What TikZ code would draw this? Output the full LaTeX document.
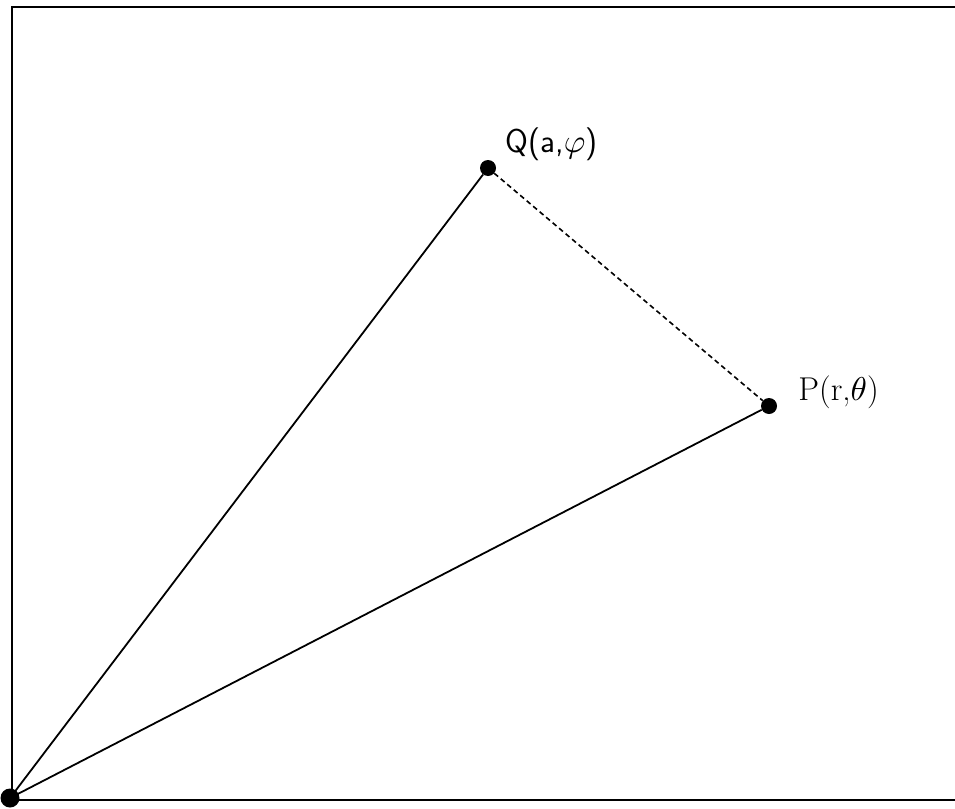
\documentclass[tikz,border=0pt]{standalone}
\usepackage{amsmath, amssymb}
\usepackage{tikz}
\usetikzlibrary{positioning}
\DeclareFontShape{OML}{cmm}{m}{it}{<->cmmi10}{}

\begin{document}
\begin{tikzpicture}[
      x=1pt, y=-1pt,
      node_dot/.style={circle, fill=black, draw=none, inner sep=0pt, minimum size=16pt},
      node_lab/.style={inner sep=0pt, font=\fontsize{33}{38}\selectfont},
      edge_line/.style={line width=1.8pt},
      edge_dash/.style={line width=1.6pt, dash pattern=on 5pt off 3.5pt}
    ]
      \useasboundingbox (0,0) rectangle (955,808);
      % frame
      \draw[line width=2.2pt] (955,7) -- (12,7) -- (12,800) -- (955,800);

      \node[node_dot, minimum size=19pt] (O) at (10,798) {};
      \node[node_dot] (Q) at (488,168) {};
      \node[node_dot] (P) at (769,406) {};
      \node[node_lab, right=9pt of Q, yshift=24pt] (Qlab) {\textsf{Q(a,}$\varphi$\textsf{)}};
      \node[node_lab, right=21pt of P, yshift=14pt] (Plab) {P(r,$\theta$)};

      \draw[edge_line] (O.center) -- (Q);
      \draw[edge_line] (O.center) -- (P);
      \draw[edge_dash] (Q) -- (P);
    \end{tikzpicture}
\end{document}
